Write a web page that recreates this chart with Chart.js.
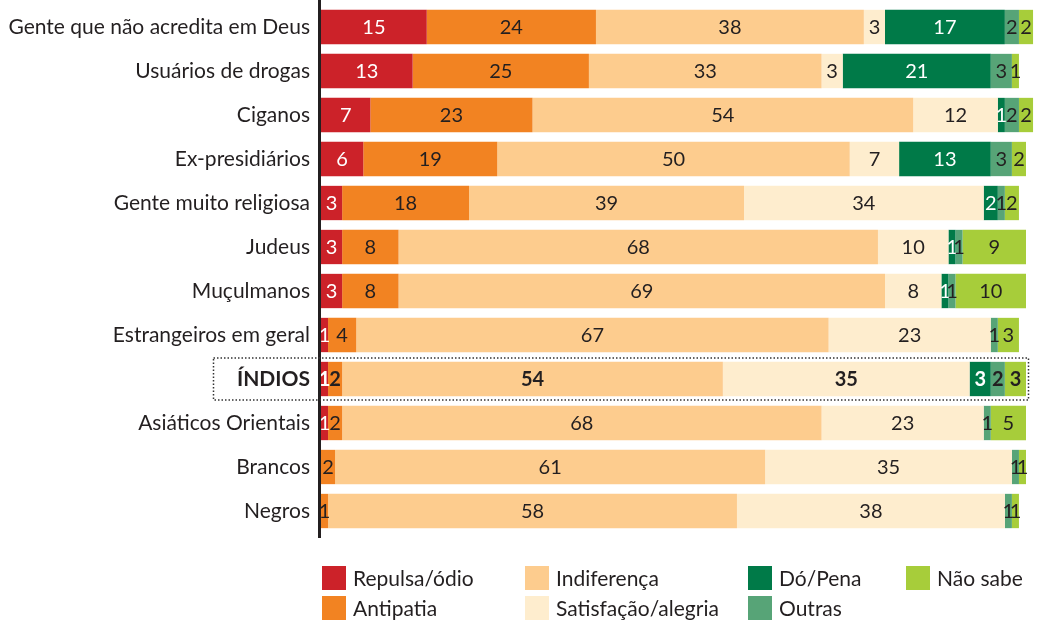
<!DOCTYPE html>
<html>
<head>
<meta charset="utf-8">
<script src="https://cdn.jsdelivr.net/npm/chart.js@4"></script>
<style>
  html, body { margin: 0; padding: 0; background: #fff; }
  #wrap { position: relative; width: 1039px; height: 622px; }
  canvas { position: absolute; left: 0; top: 0; }
  .legend { position: absolute; font-family: Lato, "Open Sans", sans-serif; font-size: 21px; color: #231f20; }
  .item { position: absolute; white-space: nowrap; line-height: 24px; }
  .sw { display: inline-block; width: 24px; height: 24px; vertical-align: top; margin-right: 7px; }
</style>
</head>
<body>
<div id="wrap">
  <canvas id="c" width="1039" height="622"></canvas>
  <div class="legend" id="legend"></div>
</div>
<script>
const categories = [
  "Gente que não acredita em Deus", "Usuários de drogas", "Ciganos", "Ex-presidiários",
  "Gente muito religiosa", "Judeus", "Muçulmanos", "Estrangeiros em geral",
  "ÍNDIOS", "Asiáticos Orientais", "Brancos", "Negros"
];
const repulsa     = [15, 13,  7,  6,  3,  3,  3,  1,  1,  1,  0,  0];
const antipatia   = [24, 25, 23, 19, 18,  8,  8,  4,  2,  2,  2,  1];
const indiferenca = [38, 33, 54, 50, 39, 68, 69, 67, 54, 68, 61, 58];
const satisfacao  = [ 3,  3, 12,  7, 34, 10,  8, 23, 35, 23, 35, 38];
const doPena      = [17, 21,  1, 13,  2,  1,  1,  0,  3,  0,  0,  0];
const outras      = [ 2,  3,  2,  3,  1,  1,  1,  1,  2,  1,  1,  1];
const naoSabe     = [ 2,  1,  2,  2,  2,  9, 10,  3,  3,  5,  1,  1];

const seriesNames  = ["Repulsa/ódio", "Antipatia", "Indiferença", "Satisfação/alegria", "Dó/Pena", "Outras", "Não sabe"];
const seriesData   = [repulsa, antipatia, indiferenca, satisfacao, doPena, outras, naoSabe];
const seriesColors = ["#cc2229", "#f28322", "#fdcc8e", "#feedce", "#007a48", "#57a477", "#a7cd3a"];
const labelColors  = ["#ffffff", "#231f20", "#231f20", "#231f20", "#ffffff", "#231f20", "#231f20"];
const highlightRow = "ÍNDIOS";

const FONT = 'Lato, "Open Sans", sans-serif';

// value labels centred in every non-empty segment
const segmentLabels = {
  id: 'segmentLabels',
  afterDatasetsDraw(chart) {
    const ctx = chart.ctx;
    ctx.save();
    ctx.textAlign = 'center';
    ctx.textBaseline = 'middle';
    chart.data.datasets.forEach((ds, di) => {
      const meta = chart.getDatasetMeta(di);
      meta.data.forEach((bar, i) => {
        const v = ds.data[i];
        if (!v) return;
        const bold = chart.data.labels[i] === highlightRow;
        ctx.font = (bold ? 'bold ' : '') + '20px ' + FONT;
        ctx.fillStyle = labelColors[di];
        ctx.fillText(String(v), (bar.x + bar.base) / 2, bar.y + 1);
      });
    });
    ctx.restore();
  }
};

// thick vertical axis line and dotted frame around the highlighted row
const decorations = {
  id: 'decorations',
  afterDraw(chart) {
    const ctx = chart.ctx;
    const area = chart.chartArea;
    const y = chart.scales.y;
    ctx.save();
    ctx.strokeStyle = '#231f20';
    ctx.lineWidth = 3;
    ctx.beginPath();
    ctx.moveTo(area.left - 1.5, 0);
    ctx.lineTo(area.left - 1.5, area.bottom + 5);
    ctx.stroke();

    const idx = chart.data.labels.indexOf(highlightRow);
    const cy = y.getPixelForValue(idx);
    ctx.lineWidth = 1.5;
    ctx.setLineDash([1.5, 2]);
    ctx.strokeStyle = '#333';
    ctx.strokeRect(213.5, cy - 21, 815, 42);
    ctx.restore();
  }
};

new Chart(document.getElementById('c'), {
  type: 'bar',
  data: {
    labels: categories,
    datasets: seriesNames.map((name, i) => ({
      label: name,
      data: seriesData[i],
      backgroundColor: seriesColors[i],
      borderWidth: 0,
      barPercentage: 0.78,
      categoryPercentage: 1.0,
      clip: false
    }))
  },
  options: {
    indexAxis: 'y',
    responsive: false,
    animation: false,
    layout: { padding: { top: 5, right: 13, bottom: 89, left: 0 } },
    plugins: {
      legend: { display: false },
      tooltip: { enabled: false }
    },
    scales: {
      x: {
        stacked: true,
        min: 0,
        max: 100,
        display: false
      },
      y: {
        stacked: true,
        grid: { display: false, drawTicks: false },
        border: { display: false },
        afterFit(scale) {
          scale.width = 321;
          scale.paddingTop = 0;
          scale.paddingBottom = 0;
        },
        ticks: {
          padding: 11,
          color: '#231f20',
          font: (c) => ({ family: FONT, size: 21, weight: c.tick && c.tick.label === highlightRow ? 'bold' : 'normal' })
        }
      }
    }
  },
  plugins: [segmentLabels, decorations]
});

// legend laid out in columns
const legendPos = [
  [322, 566], [322, 596], [525, 566], [525, 596], [748, 566], [748, 596], [906, 566]
];
const legend = document.getElementById('legend');
seriesNames.forEach((name, i) => {
  const el = document.createElement('div');
  el.className = 'item';
  el.style.left = legendPos[i][0] + 'px';
  el.style.top = legendPos[i][1] + 'px';
  el.innerHTML = '<span class="sw" style="background:' + seriesColors[i] + '"></span>' + name;
  legend.appendChild(el);
});
</script>
</body>
</html>
